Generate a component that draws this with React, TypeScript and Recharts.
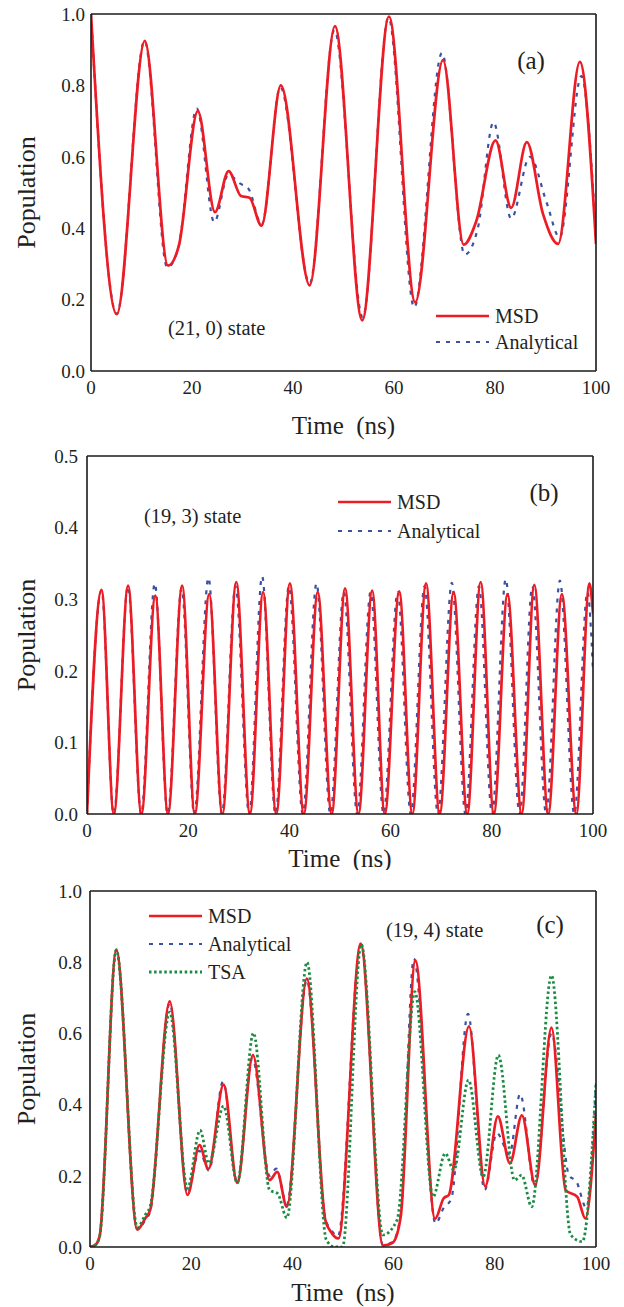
import React from 'react';
import { LineChart, Line, XAxis, YAxis, Legend } from 'recharts';

const FONT = "'Liberation Serif', 'Times New Roman', Times, 'DejaVu Serif', serif";
const INK = '#231f20';
const AXIS = '#1a1a1a';
const RED = '#ed1c24';
const BLUE = '#3953a4';
const GREEN = '#1b8b43';

// ---------- tick labels ----------
const xLabelTicks = [0, 20, 40, 60, 80, 100];
const xMinorTicks = [0, 10, 20, 30, 40, 50, 60, 70, 80, 90, 100];
const yLabelTicksAC = [0, 0.2, 0.4, 0.6, 0.8, 1.0];
const yMinorTicksAC = [0, 0.1, 0.2, 0.3, 0.4, 0.5, 0.6, 0.7, 0.8, 0.9, 1.0];
const yLabelTicksB = [0, 0.1, 0.2, 0.3, 0.4, 0.5];
const yMinorTicksB = [0, 0.05, 0.1, 0.15, 0.2, 0.25, 0.3, 0.35, 0.4, 0.45, 0.5];

// ---------- panel (a): (21, 0) state ----------
const aMsdT = [0, 5.1, 10.65, 15.25, 17.4, 21.15, 24.55, 27.25, 29.7, 31.4, 33.75, 37.6, 43.3, 48.3, 53.7, 59.0, 64.2, 69.7, 73.8, 76.3, 80.1, 83.2, 86.3, 89.5, 92.5, 96.8, 100];
const aMsdV = [1.0, 0.159, 0.925, 0.295, 0.351, 0.728, 0.445, 0.56, 0.49, 0.485, 0.407, 0.8, 0.24, 0.966, 0.142, 0.993, 0.192, 0.871, 0.354, 0.42, 0.646, 0.457, 0.641, 0.44, 0.356, 0.866, 0.356];
const aAnaT = [0, 5.1, 10.6, 15.1, 17.3, 20.95, 24.4, 27.2, 29.4, 31.2, 33.8, 37.5, 43.3, 48.2, 53.8, 58.9, 64.0, 69.5, 74.0, 76.6, 79.7, 83.2, 86.9, 90.2, 92.8, 97.1, 100];
const aAnaV = [1.0, 0.16, 0.925, 0.29, 0.345, 0.735, 0.417, 0.55, 0.526, 0.51, 0.41, 0.795, 0.245, 0.955, 0.15, 0.99, 0.178, 0.891, 0.326, 0.4, 0.697, 0.427, 0.6, 0.473, 0.374, 0.826, 0.37];

// ---------- panel (b): (19, 3) state ----------
const bMsdT = [0, 2.87, 5.3, 8.12, 10.75, 13.5, 16.0, 18.8, 21.3, 24.15, 26.75, 29.5, 32.2, 34.8, 37.4, 40.1, 42.85, 45.6, 48.35, 51.0, 53.65, 56.35, 58.85, 61.7, 64.3, 67.0, 69.7, 72.45, 75.15, 77.8, 80.4, 83.1, 85.9, 88.4, 91.15, 93.85, 96.7, 99.3, 100];
const bMsdV = [0, 0.313, 0, 0.319, 0, 0.305, 0, 0.319, 0, 0.307, 0, 0.324, 0, 0.31, 0, 0.322, 0, 0.31, 0, 0.315, 0, 0.312, 0, 0.311, 0, 0.322, 0, 0.31, 0, 0.324, 0, 0.307, 0, 0.32, 0, 0.307, 0, 0.322, 0.28];
const bAnaT = [0, 2.87, 5.28, 8.1, 10.7, 13.4, 15.95, 18.7, 21.2, 24.0, 26.65, 29.35, 32.05, 34.6, 37.25, 39.9, 42.65, 45.35, 48.1, 50.75, 53.4, 56.05, 58.6, 61.4, 64.0, 66.7, 69.35, 72.1, 74.8, 77.45, 80.05, 82.75, 85.5, 88.0, 90.75, 93.45, 96.3, 98.9, 100];
const bAnaV = [0, 0.312, 0, 0.318, 0, 0.322, 0, 0.315, 0, 0.33, 0, 0.318, 0, 0.332, 0, 0.318, 0, 0.322, 0, 0.31, 0, 0.31, 0, 0.31, 0, 0.318, 0, 0.323, 0, 0.318, 0, 0.328, 0, 0.318, 0, 0.326, 0, 0.31, 0.2];

// ---------- panel (c): (19, 4) state ----------
const cMsdT = [0, 1.0, 1.9, 5.2, 9.35, 10.9, 11.9, 15.75, 19.25, 21.65, 23.4, 26.4, 29.1, 32.2, 35.5, 37.0, 38.9, 42.85, 46.5, 47.5, 49.1, 53.5, 57.9, 59.8, 61.4, 64.3, 68.2, 69.9, 70.9, 74.9, 78.1, 80.6, 83.0, 85.35, 88.0, 91.2, 94.0, 96.3, 97.9, 100];
const cMsdV = [0, 0.005, 0.03, 0.834, 0.049, 0.08, 0.104, 0.69, 0.146, 0.286, 0.219, 0.456, 0.18, 0.539, 0.188, 0.211, 0.113, 0.754, 0.076, 0.045, 0.024, 0.852, 0.004, 0.012, 0.085, 0.805, 0.079, 0.137, 0.146, 0.62, 0.17, 0.367, 0.235, 0.37, 0.174, 0.616, 0.16, 0.141, 0.08, 0.375];
const cAnaT = [0, 1.0, 1.9, 5.2, 9.35, 10.9, 11.9, 15.75, 19.25, 21.6, 23.5, 26.3, 29.1, 32.1, 35.5, 36.8, 38.9, 42.85, 46.5, 47.6, 49.0, 53.5, 57.9, 59.8, 61.4, 64.0, 68.3, 69.9, 71.4, 74.7, 78.0, 80.4, 82.9, 85.0, 87.9, 91.2, 94.7, 96.1, 98.1, 100];
const cAnaV = [0, 0.005, 0.03, 0.834, 0.05, 0.075, 0.1, 0.685, 0.15, 0.27, 0.215, 0.465, 0.18, 0.53, 0.2, 0.22, 0.12, 0.75, 0.08, 0.05, 0.03, 0.85, 0.005, 0.015, 0.09, 0.81, 0.066, 0.11, 0.135, 0.655, 0.16, 0.32, 0.26, 0.43, 0.17, 0.6, 0.2, 0.185, 0.11, 0.46];
const cTsaT = [0, 1.0, 1.9, 5.2, 9.35, 10.9, 11.9, 15.75, 19.25, 21.75, 23.5, 26.4, 29.1, 32.3, 35.5, 37.1, 38.9, 42.9, 46.7, 48.3, 49.9, 53.6, 57.9, 60.7, 64.2, 67.8, 70.2, 71.9, 74.8, 77.7, 80.7, 83.9, 85.3, 87.3, 91.2, 95.0, 97.3, 100];
const cTsaV = [0, 0.005, 0.03, 0.835, 0.055, 0.09, 0.115, 0.66, 0.165, 0.328, 0.235, 0.396, 0.18, 0.601, 0.16, 0.15, 0.082, 0.8, 0.02, 0, 0, 0.85, 0.034, 0.076, 0.717, 0.141, 0.263, 0.216, 0.469, 0.197, 0.539, 0.188, 0.202, 0.113, 0.763, 0.034, 0.015, 0.46];

const zip = (ts: number[], vs: number[]) => ts.map((t, i) => ({ t, v: vs[i] }));

type Style = { stroke: string; width: number; dash?: string };
const STYLES: Record<string, Style> = {
  MSD: { stroke: RED, width: 2.7 },
  Analytical: { stroke: BLUE, width: 2.2, dash: '4 6' },
  TSA: { stroke: GREEN, width: 2.8, dash: '2.5 2.6' },
};

type Series = { name: string; data: { t: number; v: number }[] };
type PanelCfg = {
  top: number;
  height: number;
  plot: { left: number; right: number; top: number; bottom: number };
  yDomain: [number, number];
  yLabels: number[];
  yMinor: number[];
  yTickMargin: number;
  series: Series[]; // draw order
  legendOrder: string[];
  legend: { x: number; y: number; rowH: number };
  tag: { text: string; x: number; y: number };
  state: { text: string; x: number; y: number };
  xTitleBaseline: number;
};

const W = 624;
const TICK = { fill: INK, fontSize: 19, fontFamily: FONT };

function frameAxes(p: PanelCfg) {
  const common = {
    type: 'number' as const,
    allowDataOverflow: true,
    tick: false as const,
    tickSize: 5,
    tickLine: { stroke: AXIS, strokeWidth: 1.4 },
    interval: 0 as const,
  };
  return [
    <XAxis key="xb" xAxisId="xb" orientation="bottom" mirror domain={[0, 100]} ticks={xMinorTicks} axisLine={false} {...common} />,
    <XAxis key="xt" xAxisId="xt" orientation="top" mirror domain={[0, 100]} ticks={xMinorTicks} axisLine={{ stroke: AXIS, strokeWidth: 1.6 }} {...common} />,
    <YAxis key="yl" yAxisId="yl" orientation="left" mirror domain={p.yDomain} ticks={p.yMinor} axisLine={false} {...common} />,
    <YAxis key="yr" yAxisId="yr" orientation="right" mirror domain={p.yDomain} ticks={p.yMinor} axisLine={{ stroke: AXIS, strokeWidth: 1.6 }} {...common} />,
  ];
}

function Panel({ p }: { p: PanelCfg }) {
  const { plot } = p;
  const cx = (plot.left + plot.right) / 2;
  const cy = (plot.top + plot.bottom) / 2;
  const legendContent = () => (
    <div style={{ fontFamily: FONT, fontSize: 20, color: INK, lineHeight: 1 }}>
      {p.legendOrder.map((n) => {
        const s = STYLES[n];
        return (
          <div key={n} style={{ display: 'flex', alignItems: 'center', height: p.legend.rowH, whiteSpace: 'nowrap' }}>
            <svg width={53} height={8} style={{ display: 'block' }}>
              <line x1={0} x2={53} y1={4} y2={4} stroke={s.stroke} strokeWidth={s.width} strokeDasharray={s.dash} />
            </svg>
            <span style={{ marginLeft: 6 }}>{n}</span>
          </div>
        );
      })}
    </div>
  );
  return (
    <div style={{ position: 'absolute', left: 0, top: p.top, width: W, height: p.height }}>
      <LineChart
        width={W}
        height={p.height}
        margin={{ top: plot.top, right: W - plot.right, bottom: 0, left: 0 }}
      >
        <XAxis
          xAxisId="x"
          dataKey="t"
          type="number"
          domain={[0, 100]}
          allowDataOverflow
          ticks={xLabelTicks}
          interval={0}
          height={p.height - plot.bottom}
          tickLine={false}
          tickSize={0}
          tickMargin={10}
          axisLine={{ stroke: AXIS, strokeWidth: 1.6 }}
          tick={TICK}
          label={{
            content: () => (
              <text x={cx} y={p.xTitleBaseline} textAnchor="middle" fontFamily={FONT} fontSize={25} fill={INK}>
                {'Time\u00A0 (ns)'}
              </text>
            ),
          }}
        />
        <YAxis
          yAxisId="y"
          type="number"
          domain={p.yDomain}
          allowDataOverflow
          ticks={p.yLabels}
          interval={0}
          width={plot.left}
          tickLine={false}
          tickSize={0}
          tickMargin={p.yTickMargin}
          axisLine={{ stroke: AXIS, strokeWidth: 1.6 }}
          tick={TICK}
          tickFormatter={(v: number) => v.toFixed(1)}
          label={{
            content: () => (
              <text
                x={26}
                y={cy}
                dy="0.35em"
                transform={`rotate(-90 26 ${cy})`}
                textAnchor="middle"
                fontFamily={FONT}
                fontSize={26}
                fill={INK}
              >
                Population
              </text>
            ),
          }}
        />
        {frameAxes(p)}
        {p.series.map((s) => {
          const st = STYLES[s.name];
          return (
            <Line
              key={s.name}
              name={s.name}
              data={s.data}
              dataKey="v"
              xAxisId="x"
              yAxisId="y"
              type="monotone"
              stroke={st.stroke}
              strokeWidth={st.width}
              strokeDasharray={st.dash}
              dot={false}
              activeDot={false}
              isAnimationActive={false}
            />
          );
        })}
        <Legend
          layout="vertical"
          align="center"
          verticalAlign="middle"
          wrapperStyle={{ left: p.legend.x, top: p.legend.y, width: 'auto', height: 'auto' }}
          content={legendContent}
        />
      </LineChart>
      <div
        style={{
          position: 'absolute',
          left: p.tag.x,
          top: p.tag.y,
          transform: 'translate(-50%, -50%)',
          fontFamily: FONT,
          fontSize: 25,
          lineHeight: 1,
          color: INK,
          whiteSpace: 'nowrap',
        }}
      >
        {p.tag.text}
      </div>
      <div
        style={{
          position: 'absolute',
          left: p.state.x,
          top: p.state.y,
          transform: 'translate(0, -50%)',
          fontFamily: FONT,
          fontSize: 20.5,
          lineHeight: 1,
          color: INK,
          whiteSpace: 'nowrap',
        }}
      >
        {p.state.text}
      </div>
    </div>
  );
}

const panelA: PanelCfg = {
  top: 0,
  height: 440,
  plot: { left: 91, right: 596, top: 14, bottom: 371 },
  yDomain: [0, 1],
  yLabels: yLabelTicksAC,
  yMinor: yMinorTicksAC,
  yTickMargin: 6,
  series: [
    { name: 'Analytical', data: zip(aAnaT, aAnaV) },
    { name: 'MSD', data: zip(aMsdT, aMsdV) },
  ],
  legendOrder: ['MSD', 'Analytical'],
  legend: { x: 436, y: 303, rowH: 25.7 },
  tag: { text: '(a)', x: 531, y: 60 },
  state: { text: '(21, 0) state', x: 168, y: 328 },
  xTitleBaseline: 433.5,
};

const panelB: PanelCfg = {
  top: 440,
  height: 430,
  plot: { left: 87, right: 593, top: 16, bottom: 374 },
  yDomain: [0, 0.5],
  yLabels: yLabelTicksB,
  yMinor: yMinorTicksB,
  yTickMargin: 9,
  series: [
    { name: 'Analytical', data: zip(bAnaT, bAnaV) },
    { name: 'MSD', data: zip(bMsdT, bMsdV) },
  ],
  legendOrder: ['MSD', 'Analytical'],
  legend: { x: 338, y: 47, rowH: 29 },
  tag: { text: '(b)', x: 544, y: 52 },
  state: { text: '(19, 3) state', x: 144, y: 76 },
  xTitleBaseline: 426.5,
};

const panelC: PanelCfg = {
  top: 870,
  height: 437,
  plot: { left: 90, right: 596, top: 21, bottom: 377 },
  yDomain: [0, 1],
  yLabels: yLabelTicksAC,
  yMinor: yMinorTicksAC,
  yTickMargin: 8,
  series: [
    { name: 'Analytical', data: zip(cAnaT, cAnaV) },
    { name: 'MSD', data: zip(cMsdT, cMsdV) },
    { name: 'TSA', data: zip(cTsaT, cTsaV) },
  ],
  legendOrder: ['MSD', 'Analytical', 'TSA'],
  legend: { x: 149, y: 31.7, rowH: 28 },
  tag: { text: '(c)', x: 550, y: 54 },
  state: { text: '(19, 4) state', x: 386, y: 60 },
  xTitleBaseline: 431,
};

export default function App() {
  return (
    <div style={{ position: 'absolute', left: 0, top: 0, width: W, height: 1307, background: '#fff', overflow: 'hidden' }}>
      <Panel p={panelA} />
      <Panel p={panelB} />
      <Panel p={panelC} />
    </div>
  );
}
